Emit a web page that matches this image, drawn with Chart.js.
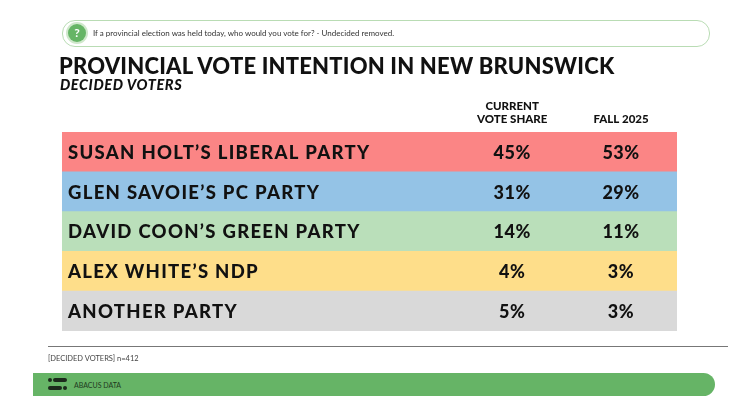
<!DOCTYPE html>
<html>
<head>
<meta charset="utf-8">
<script src="https://cdn.jsdelivr.net/npm/chart.js@4"></script>
<style>
  html, body { margin: 0; padding: 0; background: #fff; }
  body { width: 752px; height: 414px; position: relative; overflow: hidden; font-family: "Lato", "Open Sans", sans-serif; }
  #wrap { position: absolute; left: 0; top: 0; width: 752px; height: 414px; }
  .qbox { position: absolute; left: 62px; top: 20px; width: 648px; height: 27px; border: 1px solid #b9dcb4; border-radius: 13px; box-sizing: border-box; }
  .qicon { position: absolute; left: 68px; top: 24px; width: 18px; height: 18px; border-radius: 50%; background: #66b566; box-shadow: 0 0 0 2px #cfe8cb; color: #fff; font: bold 12px "Lato", sans-serif; text-align: center; line-height: 18px; }
  .qtext { position: absolute; left: 93px; top: 28px; font-size: 8px; color: #333; }
  .title { position: absolute; left: 59px; top: 52px; font: 900 22px "Lato", sans-serif; color: #111; letter-spacing: 0.2px; }
  .sub { position: absolute; left: 60px; top: 76px; font: italic 900 14.5px "Lato", sans-serif; color: #111; letter-spacing: 0.6px; }
  .rule { position: absolute; left: 48px; top: 346px; width: 680px; height: 1px; background: #777; }
  .note { position: absolute; left: 48px; top: 354px; font-size: 7.5px; color: #444; }
  .bar { position: absolute; left: 33px; top: 373px; width: 682px; height: 23px; background: #66b466; border-radius: 0 12px 12px 0; }
  .brand { position: absolute; left: 74px; top: 381px; font-size: 7px; color: #1f3a1f; }
  .logo { position: absolute; background: #1c2a1c; border-radius: 2px; }
</style>
</head>
<body>
<div id="wrap"><canvas id="voteChart" width="752" height="414"></canvas></div>
<div class="qbox"></div>
<div class="qicon">?</div>
<div class="qtext">If a provincial election was held today, who would you vote for? - Undecided removed.</div>
<div class="title">PROVINCIAL VOTE INTENTION IN NEW BRUNSWICK</div>
<div class="sub">DECIDED VOTERS</div>
<div class="rule"></div>
<div class="note">[DECIDED VOTERS] n=412</div>
<div class="bar"></div>
<div class="logo" style="left:48px;top:378px;width:4px;height:4px;border-radius:50%"></div>
<div class="logo" style="left:53px;top:378px;width:14px;height:4px"></div>
<div class="logo" style="left:48px;top:386px;width:14px;height:4px"></div>
<div class="logo" style="left:63px;top:386px;width:4px;height:4px;border-radius:50%"></div>
<div class="brand">ABACUS DATA</div>
<script>
//data
const parties = [
  "SUSAN HOLT\u2019S LIBERAL PARTY",
  "GLEN SAVOIE\u2019S PC PARTY",
  "DAVID COON\u2019S GREEN PARTY",
  "ALEX WHITE\u2019S NDP",
  "ANOTHER PARTY",
];
const currentShare = [45, 31, 14, 4, 5];
const fall2025 = [53, 29, 11, 3, 3];
const columnLabels = [["CURRENT", "VOTE SHARE"], ["FALL 2025"]];
const rowColors = ["#fb8585", "#94c3e6", "#badfba", "#fede8a", "#d9d9d9"];

//column centres, in x scale units (0..100 across the table)
const colX = [73.2, 90.9];

const tablePlugin = {
  id: "tableText",
  afterDatasetsDraw(chart) {
    const ctx = chart.ctx;
    const x = chart.scales.x;
    const y = chart.scales.y;
    ctx.save();
    ctx.fillStyle = "#111";
    ctx.textBaseline = "middle";
    // column headers
    ctx.font = "900 11.5px Lato";
    ctx.textAlign = "center";
    columnLabels.forEach((lines, c) => {
      const cx = x.getPixelForValue(colX[c]);
      const baseY = chart.chartArea.top - 13 - (lines.length - 1) * 13;
      lines.forEach((t, i) => ctx.fillText(t, cx, baseY + i * 13));
    });
    // rows
    parties.forEach((p, i) => {
      const cy = y.getPixelForValue(i) + 1;
      ctx.textAlign = "left";
      ctx.font = "900 18.5px Lato";
      ctx.letterSpacing = "1.3px";
      ctx.fillText(p, x.getPixelForValue(0) + 6, cy);
      ctx.letterSpacing = "0.5px";
      ctx.textAlign = "center";
      ctx.font = "900 18px Lato";
      ctx.fillText(currentShare[i] + "%", x.getPixelForValue(colX[0]), cy);
      ctx.fillText(fall2025[i] + "%", x.getPixelForValue(colX[1]), cy);
    });
    ctx.restore();
  },
};

const config = {
  type: "bar",
  data: {
    labels: parties,
    datasets: [
      {
        label: "row",
        data: parties.map(() => 100),
        backgroundColor: rowColors,
        barPercentage: 1,
        categoryPercentage: 1,
        borderWidth: 0,
      },
    ],
  },
  options: {
    indexAxis: "y",
    responsive: false,
    animation: false,
    layout: { padding: { left: 62, right: 75, top: 132, bottom: 83 } },
    plugins: { legend: { display: false }, tooltip: { enabled: false } },
    scales: {
      x: { display: false, min: 0, max: 100 },
      y: { display: false },
    },
  },
  plugins: [tablePlugin],
};

new Chart(document.getElementById("voteChart"), config);
</script>
</body>
</html>
